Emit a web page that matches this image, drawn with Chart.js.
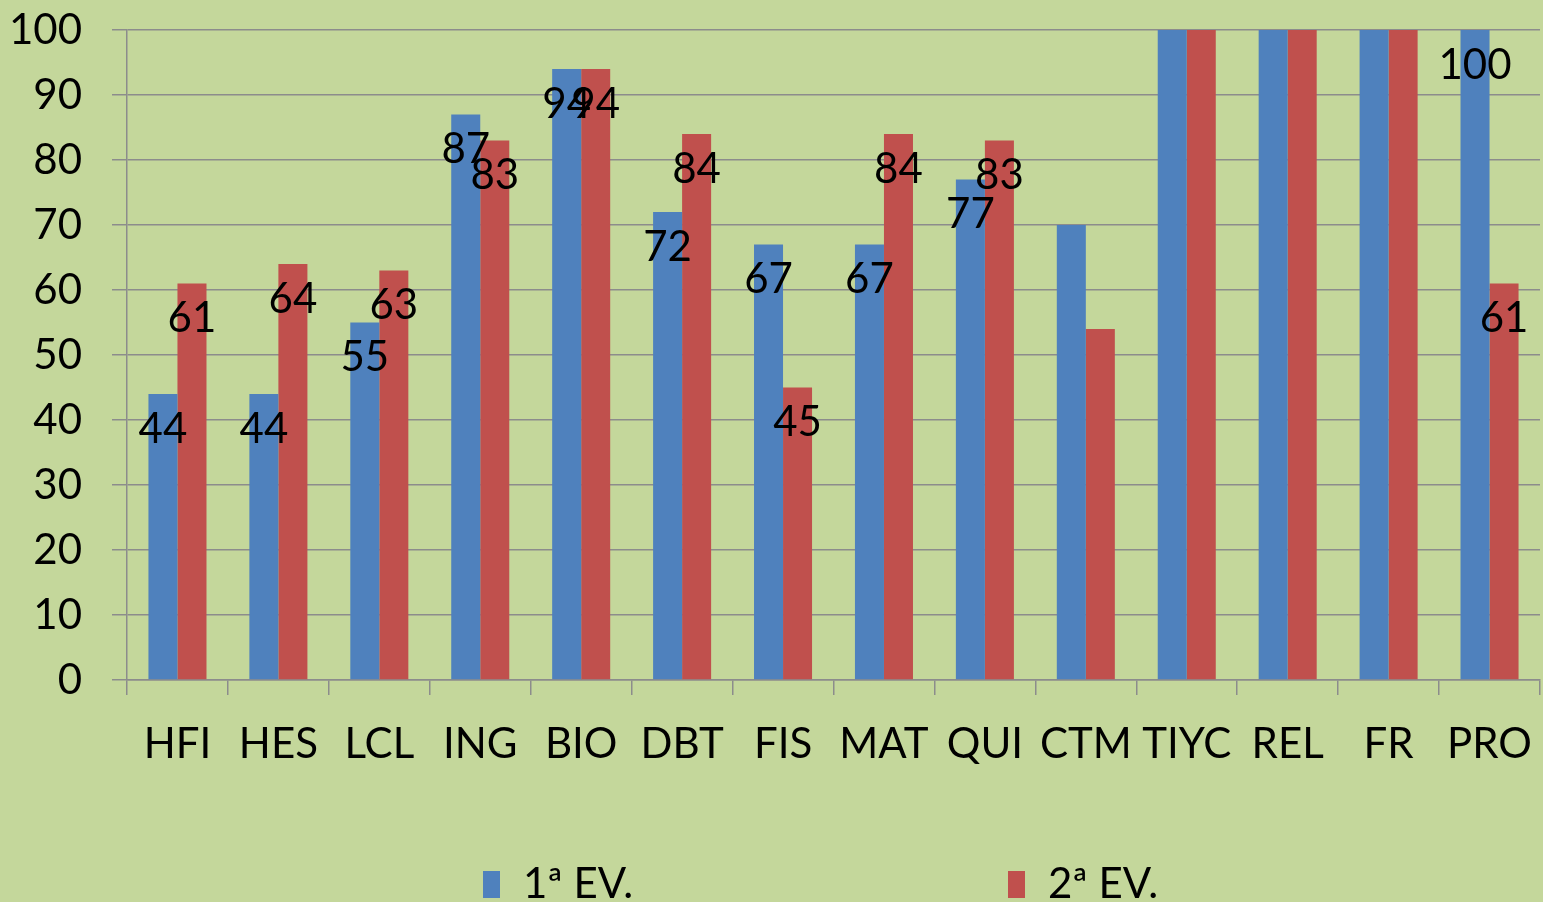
<!DOCTYPE html>
<html>
<head>
<meta charset="utf-8">
<script src="https://cdn.jsdelivr.net/npm/chart.js@4"></script>
<style>
  html, body { margin: 0; padding: 0; background: #c4d79b; }
  #wrap { width: 1543px; height: 902px; }
</style>
</head>
<body>
<div id="wrap"><canvas id="chart"></canvas></div>
<script>
var categories = ['HFI', 'HES', 'LCL', 'ING', 'BIO', 'DBT', 'FIS', 'MAT', 'QUI', 'CTM', 'TIYC', 'REL', 'FR', 'PRO'];
var firstEval = [44, 44, 55, 87, 94, 72, 67, 67, 77, 70, 100, 100, 100, 100];
var secondEval = [61, 64, 63, 83, 94, 84, 45, 84, 83, 54, 100, 100, 100, 61];
// labels shown on the bars (null = no label in the original)
var firstLabels = [44, 44, 55, 87, 94, 72, 67, 67, 77, null, null, null, null, 100];
var secondLabels = [61, 64, 63, 83, 94, 84, 45, 84, 83, null, null, null, null, 61];
var yTicks = [0, 10, 20, 30, 40, 50, 60, 70, 80, 90, 100];

var FONT = 'Lato, "Open Sans", sans-serif';
var BLUE = '#4f81bd';
var RED = '#c0504d';
var GRID = '#8c8c8c';

var bgPlugin = {
  id: 'bg',
  beforeDraw: function(chart) {
    var ctx = chart.ctx;
    ctx.save();
    ctx.fillStyle = '#c4d79b';
    ctx.fillRect(0, 0, chart.width, chart.height);
    ctx.restore();
  }
};

var barLabels = {
  id: 'barLabels',
  afterDatasetsDraw: function(chart) {
    var ctx = chart.ctx;
    var sets = [firstLabels, secondLabels];
    ctx.save();
    ctx.font = '42px ' + FONT;
    ctx.fillStyle = '#000';
    ctx.textAlign = 'center';
    ctx.textBaseline = 'middle';
    sets.forEach(function(labels, di) {
      var meta = chart.getDatasetMeta(di);
      meta.data.forEach(function(bar, i) {
        if (labels[i] == null) return;
        ctx.fillText(String(labels[i]), bar.x, bar.y + 35);
      });
    });
    ctx.restore();
  }
};

var bottomLegend = {
  id: 'bottomLegend',
  afterDraw: function(chart) {
    var ctx = chart.ctx;
    var startX = 483, gap = 525, y = 884;
    ctx.save();
    ctx.font = '42px ' + FONT;
    ctx.textBaseline = 'middle';
    chart.data.datasets.forEach(function(ds, i) {
      var x = startX + i * gap;
      ctx.fillStyle = ds.backgroundColor;
      ctx.fillRect(x, y - 13, 17, 27);
      ctx.fillStyle = '#000';
      ctx.fillText(ds.label, x + 40, y);
    });
    ctx.restore();
  }
};

new Chart(document.getElementById('chart'), {
  type: 'bar',
  data: {
    labels: categories,
    datasets: [
      { label: '1ª EV.', data: firstEval, backgroundColor: BLUE, categoryPercentage: 0.575, barPercentage: 1 },
      { label: '2ª EV.', data: secondEval, backgroundColor: RED, categoryPercentage: 0.575, barPercentage: 1 }
    ]
  },
  options: {
    responsive: true,
    maintainAspectRatio: false,
    animation: false,
    layout: { padding: { top: 30, right: 3, left: 0, bottom: 0 } },
    plugins: {
      legend: { display: false },
      tooltip: { enabled: false }
    },
    scales: {
      x: {
        grid: { display: true, drawOnChartArea: false, drawTicks: true, tickLength: 15, color: GRID, lineWidth: 1.5, offset: true },
        border: { display: true, color: GRID, width: 1.5 },
        ticks: { color: '#000', font: { family: FONT, size: 42 }, padding: 24, maxRotation: 0, autoSkip: false },
        afterFit: function(axis) {
          axis.height = 222;
          axis.paddingLeft = 0;
          axis.paddingRight = 0;
        }
      },
      y: {
        min: 0,
        max: 100,
        afterBuildTicks: function(axis) {
          axis.ticks = yTicks.map(function(v) { return { value: v }; });
        },
        grid: { color: GRID, lineWidth: 1.5, tickLength: 15 },
        border: { display: true, color: GRID, width: 1.5 },
        ticks: { color: '#000', font: { family: FONT, size: 42 }, padding: 30 },
        afterFit: function(axis) {
          axis.width = 127;
          axis.paddingTop = 0;
          axis.paddingBottom = 0;
        }
      }
    }
  },
  plugins: [bgPlugin, barLabels, bottomLegend]
});
</script>
</body>
</html>
